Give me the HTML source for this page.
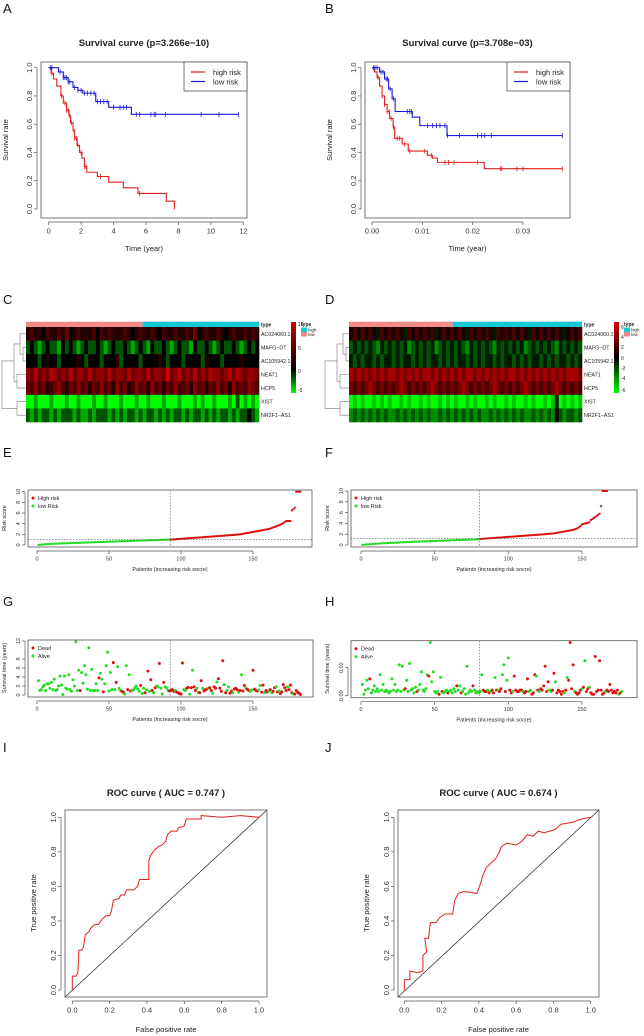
<!DOCTYPE html>
<html><head><meta charset="utf-8"><style>
html,body{margin:0;padding:0;background:#fff}
svg{display:block;font-family:"Liberation Sans",Arial,sans-serif}
</style></head><body>
<svg id="fig" width="644" height="1036" viewBox="0 0 644 1036" xmlns="http://www.w3.org/2000/svg">
<defs>
<linearGradient id="gC" x1="0" y1="1" x2="0" y2="0"><stop offset="0" stop-color="#00ff00"/><stop offset="0.33" stop-color="#000"/><stop offset="1" stop-color="#d00000"/></linearGradient>
<linearGradient id="gD" x1="0" y1="1" x2="0" y2="0"><stop offset="0" stop-color="#00ff00"/><stop offset="0.5" stop-color="#000"/><stop offset="1" stop-color="#e00000"/></linearGradient>
</defs>
<g font-size="13" fill="#111">
<text x="3" y="13">A</text>
<text x="325" y="13">B</text>
<text x="3" y="304">C</text>
<text x="325" y="304">D</text>
<text x="3" y="457">E</text>
<text x="325" y="457">F</text>
<text x="3" y="606">G</text>
<text x="325" y="606">H</text>
<text x="3" y="752">I</text>
<text x="325" y="752">J</text>
</g>
</svg>
<script>
// ---------- DATA ----------
// Panel A (KM)
const aHighT=[0.15,0.3,0.5,0.75,0.9,1.1,1.25,1.35,1.5,1.6,1.75,1.9,2.05,2.2,2.35,3.0,3.7,4.6,5.5,7.25,7.75];
const aHighS=[0.96,0.92,0.87,0.8,0.75,0.7,0.66,0.61,0.56,0.5,0.45,0.4,0.36,0.3,0.26,0.23,0.19,0.15,0.11,0.055,0.0];
const aHighCens=[0.2,0.8,1.0,1.1,1.2,1.3,1.4,1.5,1.6,1.7,1.8,2.0,2.2,2.3,3.2,5.6];
const aLowT=[0.6,0.9,1.2,1.5,1.8,2.1,2.9,3.7,5.1];
const aLowS=[0.97,0.93,0.9,0.86,0.84,0.82,0.76,0.72,0.67];
const aLowCens=[0.1,0.2,0.7,0.9,1.0,1.1,1.2,1.3,1.6,1.8,2.0,2.2,2.4,2.6,2.8,3.0,3.2,3.4,3.6,4.0,4.4,4.6,4.8,5.4,5.6,6.3,6.5,6.6,7.2,9.4,10.5,11.7];
const aEnd=[7.75,11.7];
// Panel B (KM)
const bHighT=[0.0005,0.001,0.0015,0.002,0.0025,0.003,0.0035,0.0042,0.0045,0.006,0.0072,0.011,0.012,0.013,0.0223];
const bHighS=[0.97,0.93,0.87,0.8,0.74,0.69,0.64,0.58,0.5,0.46,0.41,0.38,0.36,0.33,0.285];
const bHighCens=[0.0012,0.002,0.0025,0.003,0.0034,0.0038,0.0043,0.005,0.0055,0.0065,0.0075,0.0105,0.0118,0.0145,0.0152,0.0163,0.021,0.0255,0.0258,0.0288,0.03,0.0378];
const bLowT=[0.0015,0.0025,0.0033,0.004,0.0046,0.008,0.0095,0.0149];
const bLowS=[0.97,0.92,0.85,0.78,0.69,0.65,0.59,0.52];
const bLowCens=[0.0003,0.0006,0.001,0.0018,0.0022,0.0028,0.0031,0.0036,0.0043,0.007,0.0075,0.0078,0.011,0.012,0.0128,0.0135,0.0145,0.015,0.0174,0.021,0.0218,0.0224,0.0237,0.0378];
const bEnd=[0.0378,0.0378];
// Heatmaps (level 0-9 per column block)
const genes=["AC024060.1","MAFG\u2212DT","AC105942.1","NEAT1","HCP5","XIST","NR2F1\u2212AS1"];
const heatC=[
"454435445463454445354544454345445435445445463454454345445454",
"232123221323212322321232232123213223212322132232123223212323",
"333234332333343233323334233332333343233323333243332333343333",
"768676876768677686776867768677686776967867686768776786876776",
"657564567546575646575647564575647564657556475646575647565765",
"001000100010010001001000100010010001000100010100100010201010",
"212122121222121121222121212212122121212212122121212212122321"];
const heatD=[
"565656546565654656565645656565465656546565656546565656545656",
"343434324343434234343423434343243434324343434234343432434343",
"434344343443434434343443434344343434434344343434434343443434",
"878787878788787878788787878787887878787878878787878787878887",
"767678767676787676767876767678767676787676767876767678767676",
"010100101010010100101001010100101001010010100101001014010101",
"232323232322323232323223232323232322323232323223232325323323"];
const heatCSplit=0.5, heatDSplit=0.445;
// Panel E risk scores (sorted)
const eLow=[0.02,0.05,0.08,0.1,0.12,0.14,0.16,0.18,0.2,0.21,0.22,0.24,0.25,0.26,0.27,0.28,0.29,0.3,0.31,0.32,0.33,0.34,0.35,0.36,0.37,0.38,0.39,0.4,0.41,0.42,0.43,0.44,0.45,0.46,0.47,0.48,0.49,0.5,0.51,0.52,0.53,0.54,0.55,0.56,0.57,0.58,0.59,0.6,0.61,0.62,0.63,0.64,0.65,0.66,0.67,0.68,0.69,0.7,0.71,0.72,0.73,0.74,0.75,0.76,0.77,0.78,0.79,0.8,0.81,0.82,0.83,0.84,0.85,0.86,0.87,0.88,0.88,0.89,0.9,0.9,0.91,0.92,0.93,0.94,0.95,0.96,0.97,0.98,0.99,1.0,1.0,1.01];
const eHigh=[1.02,1.04,1.06,1.08,1.1,1.12,1.14,1.16,1.18,1.2,1.22,1.24,1.26,1.28,1.3,1.32,1.34,1.36,1.38,1.4,1.42,1.44,1.46,1.48,1.5,1.52,1.54,1.56,1.58,1.6,1.62,1.64,1.66,1.68,1.7,1.72,1.74,1.76,1.78,1.8,1.82,1.84,1.86,1.88,1.9,1.92,1.95,1.98,2.01,2.05,2.1,2.15,2.2,2.25,2.3,2.35,2.4,2.45,2.5,2.55,2.6,2.65,2.7,2.75,2.8,2.85,2.9,2.95,3.0,3.1,3.2,3.3,3.4,3.5,3.6,3.7,3.8,3.95,4.1,4.3,4.5,4.5,4.5,4.5,6.5,6.7,7.0,10,10,10,10];
const eCut=1.0;
// Panel F risk scores (sorted)
const fLow=[0.02,0.05,0.08,0.1,0.13,0.15,0.17,0.19,0.21,0.23,0.25,0.27,0.29,0.3,0.32,0.33,0.35,0.36,0.38,0.39,0.4,0.42,0.43,0.44,0.46,0.47,0.48,0.5,0.51,0.52,0.54,0.55,0.56,0.57,0.58,0.6,0.61,0.62,0.63,0.64,0.66,0.67,0.68,0.69,0.7,0.71,0.72,0.74,0.75,0.76,0.77,0.78,0.79,0.8,0.81,0.82,0.83,0.84,0.85,0.86,0.87,0.88,0.89,0.9,0.91,0.92,0.93,0.94,0.95,0.96,0.97,0.98,0.99,1.0,1.01,1.02,1.03,1.05,1.07,1.1];
const fHigh=[1.12,1.14,1.16,1.18,1.2,1.22,1.24,1.26,1.28,1.3,1.32,1.34,1.36,1.38,1.4,1.42,1.44,1.46,1.48,1.5,1.52,1.54,1.56,1.58,1.6,1.62,1.64,1.66,1.68,1.7,1.72,1.74,1.76,1.78,1.8,1.82,1.84,1.86,1.88,1.9,1.92,1.94,1.96,1.98,2.0,2.02,2.05,2.08,2.1,2.13,2.16,2.2,2.25,2.3,2.35,2.4,2.45,2.5,2.55,2.6,2.65,2.7,2.75,2.8,2.9,3.0,3.1,3.3,3.5,3.8,3.9,4.0,4.0,4.1,4.2,4.6,4.8,5.0,5.2,5.4,5.6,5.8,7.2,10,10,10,10];
const fCut=1.2;
// Panel G survival time (years) and status (D=dead, A=alive)
const gTime=[3.2,1.0,1.2,1.8,2.2,1.0,2.5,2.5,1.5,2.8,1.2,3.5,1.0,1.2,2.0,4.2,2.2,0.1,4.2,1.5,1.3,4.5,1.2,0.8,3.4,2.0,11.8,1.0,5.5,1.0,5.0,2.6,6.5,4.5,1.3,10.5,1.0,5.7,1.0,1.0,2.5,1.0,3.8,4.8,3.5,0.7,2.5,6.5,9.5,0.9,5.0,1.2,7.2,1.2,2.8,6.3,1.5,1.0,0.8,0.6,0.2,6.5,1.2,4.5,0.9,1.0,1.2,1.6,2.0,1.3,0.8,2.1,0.3,1.5,0.5,1.2,5.3,0.8,3.4,1.0,0.5,1.6,2.0,1.8,7.0,1.5,0.2,2.8,1.8,1.6,1.0,0.9,
1.0,1.2,0.8,1.0,0.6,0.5,0.3,0.2,7.1,1.2,1.0,1.5,1.7,0.2,1.6,5.5,1.8,1.0,1.5,0.6,0.5,3.2,1.5,0.9,1.2,1.3,1.5,1.6,1.0,0.4,1.8,1.5,2.9,3.6,1.5,0.8,7.6,2.3,0.5,1.0,1.8,0.4,0.9,0.5,1.3,1.5,1.2,0.6,1.0,4.5,0.9,2.1,1.5,1.3,1.0,0.8,1.1,5.5,1.3,1.0,0.9,1.1,2.1,0.6,2.2,0.5,1.0,0.7,0.9,1.2,0.5,0.8,1.6,1.8,0.7,0.9,0.3,0.7,2.3,1.6,1.0,1.8,1.2,2.2,0.5,0.3,0.2,1.0,0.6,0.4,0.1];
const gStatus="AAAAAAAAAAAAAAAAAAAAAAAAAAAAADAAAAAAAAAAAADAADAAAAAADADAAADDAADADAAAAAADAADADADDADAADAADAAAD"+
"DDDADDDDDAADDADADDAADDADDDADDADDADDDDADAADDADDDADADDADDAADDDDAADDADDADADDADADDDDDADDDADDDDDD";
// Panel H survival time (x0.001 years) and status
const hTime=[8,1,4,11,5,12,2,4,7,3,5,3,15,4,8,3,4,3,2,3,12,4,8,3,4,22,3,21,4,5,11,3,23,4,5,2,6,3,4,8,17,4,3,5,15,14,38,10,17,3,2,3,1,13,3,2,3,4,2,3,4,2,5,3,7,4,7,2,3,5,1,21,2,4,3,7,4,2,3,2,3,
15,4,3,3,4,2,3,4,2,13,4,4,3,5,15,22,3,11,27,4,2,3,14,4,3,3,4,4,3,2,3,12,3,4,1,2,15,14,4,3,5,4,7,21,3,10,4,3,4,16,10,2,4,3,1,3,2,4,13,11,38,5,22,3,2,1,2,4,5,6,25,3,5,6,2,1,1,28,3,4,25,4,1,2,3,4,3,8,4,2,3,2,4,1,2,3];
const hStatus="AAAAADAAAAAAAAAAAAAAAAAAAAAAADAAAAAAADAAAAAAADAAAAAADADAAADAAAAADAADAAAAAAADAAAAAA"+
"DDDADADDADADDAADAADDADDDDDDADDDAADDDADADDDDDDAADDADDDDDADADDDDADDDDADADDADDDDDDDDDDADDDDDDDDAD";
// ROC curves
const iFpr=[0,0,0.02,0.03,0.035,0.05,0.06,0.07,0.09,0.1,0.12,0.14,0.16,0.18,0.2,0.21,0.22,0.25,0.26,0.28,0.29,0.33,0.35,0.36,0.41,0.41,0.42,0.44,0.46,0.48,0.5,0.51,0.53,0.56,0.57,0.6,0.61,0.69,0.69,0.8,0.9,1];
const iTpr=[0,0.08,0.08,0.1,0.23,0.23,0.25,0.32,0.34,0.36,0.38,0.38,0.41,0.43,0.43,0.46,0.52,0.53,0.55,0.55,0.58,0.58,0.6,0.64,0.64,0.75,0.78,0.81,0.83,0.84,0.86,0.9,0.92,0.92,0.94,0.95,0.99,0.99,1.01,1.0,1.01,1];
const jFpr=[0,0,0.03,0.03,0.07,0.1,0.1,0.12,0.11,0.13,0.14,0.17,0.19,0.22,0.26,0.27,0.29,0.32,0.39,0.41,0.42,0.44,0.47,0.49,0.51,0.52,0.55,0.6,0.63,0.66,0.69,0.72,0.75,0.81,0.84,0.9,0.95,1];
const jTpr=[0,0.06,0.06,0.11,0.1,0.11,0.2,0.22,0.3,0.3,0.39,0.39,0.42,0.44,0.44,0.52,0.56,0.57,0.56,0.62,0.66,0.71,0.74,0.76,0.8,0.83,0.85,0.84,0.86,0.9,0.89,0.92,0.91,0.93,0.96,0.97,0.99,1];

// ---------- DRAWING ----------
const NS="http://www.w3.org/2000/svg";
const fig=document.getElementById('fig');
function el(tag,attrs,parent,txt){const e=document.createElementNS(NS,tag);for(const k in attrs)e.setAttribute(k,attrs[k]);if(txt!==undefined)e.textContent=txt;(parent||fig).appendChild(e);return e;}
function grp(name){const g=el('g',{});


return g;}
function box(g,x0,y0,x1,y1){const r=el('rect',{x:x0,y:y0,width:x1-x0,height:y1-y0,fill:'none',stroke:'#555','stroke-width':0.8},g);

}
function xTicks(g,vals,labels,X,yb,fs){vals.forEach((v,i)=>{el('line',{x1:X(v),x2:X(v),y1:yb,y2:yb+3,stroke:'#555','stroke-width':0.7},g);
const t=el('text',{x:X(v),y:yb+3+fs+1,'font-size':fs,'text-anchor':'middle',fill:'#333'},g,labels[i]);

});
el('line',{x1:X(vals[0]),x2:X(vals[vals.length-1]),y1:yb,y2:yb,stroke:'#555','stroke-width':0.7},g);}
function yTicks(g,vals,labels,Y,xb,fs){vals.forEach((v,i)=>{el('line',{x1:xb-3,x2:xb,y1:Y(v),y2:Y(v),stroke:'#555','stroke-width':0.7},g);
const tx=xb-5;const t=el('text',{x:tx,y:Y(v),'font-size':fs,'text-anchor':'middle',fill:'#333',transform:`rotate(-90 ${tx} ${Y(v)})`},g,labels[i]);

});
el('line',{x1:xb,x2:xb,y1:Y(vals[0]),y2:Y(vals[vals.length-1]),stroke:'#555','stroke-width':0.7},g);}
function txt(g,x,y,s,fs,opts,name){const t=el('text',Object.assign({x:x,y:y,'font-size':fs,fill:'#222'},opts||{}),g,s);

return t;}

// KM panel
function km(name,x0,x1,X,title,hT,hS,hC,lT,lS,lC,ends,xv,xl){
 const g=grp(name);const y0=62,y1=218;const Y=s=>209-s*141.3;
 txt(g,(x0+x1)/2,46,title,9.5,{'text-anchor':'middle','font-weight':'bold'},'chart-title');
 box(g,x0,y0,x1,y1);
 xTicks(g,xv,xl,X,y1+4,7.5);
 yTicks(g,[0,0.2,0.4,0.6,0.8,1],["0.0","0.2","0.4","0.6","0.8","1.0"],Y,x0-4,7.5);
 txt(g,(x0+x1)/2,251,"Time (year)",7.5,{'text-anchor':'middle'},'x-axis-title');
 const yl=x0-33;txt(g,yl,140,"Survival rate",7.5,{'text-anchor':'middle',transform:`rotate(-90 ${yl} 140)`},'y-axis-title');
 function step(T,S,end){let d=`M${X(0)},${Y(1)}`;T.forEach((t,i)=>{d+=` H${X(t)} V${Y(S[i])}`;});d+=` H${X(end)}`;return d;}
 function sAt(T,S,t){let s=1;T.forEach((tt,i)=>{if(tt<=t)s=S[i];});return s;}
 [[hT,hS,hC,'#e0201e',ends[0],'high-risk-curve'],[lT,lS,lC,'#1a1ad8',ends[1],'low-risk-curve']].forEach(([T,S,C,col,end,nm])=>{
  const p=el('path',{d:step(T,S,end),fill:'none',stroke:col,'stroke-width':1.1},g);
  
  
  C.forEach(c=>{const yy=Y(sAt(T,S,c));const m=el('line',{x1:X(c),x2:X(c),y1:yy-2.5,y2:yy+2.5,stroke:col,'stroke-width':0.8},g);
  
  });
 });
 const lg=el('g',{},g);
 
 
 el('rect',{x:x1-63,y:y0,width:63,height:29,fill:'#fff',stroke:'#555','stroke-width':0.8},lg);
 el('line',{x1:x1-56,x2:x1-42,y1:y0+10,y2:y0+10,stroke:'#e0201e','stroke-width':1.2},lg);
 el('line',{x1:x1-56,x2:x1-42,y1:y0+19.5,y2:y0+19.5,stroke:'#1a1ad8','stroke-width':1.2},lg);
 txt(lg,x1-34,y0+13,"high risk",7.5,{},'legend-high-risk');
 txt(lg,x1-34,y0+22.5,"low risk",7.5,{},'legend-low-risk');
}
km('survival-plot-a',41,247,t=>48.7+t*16.22,"Survival curve (p=3.266e\u221210)",aHighT,aHighS,aHighCens,aLowT,aLowS,aLowCens,aEnd,[0,2,4,6,8,10,12],["0","2","4","6","8","10","12"]);
km('survival-plot-b',365,570,t=>372+t*5033,"Survival curve (p=3.708e\u221203)",bHighT,bHighS,bHighCens,bLowT,bLowS,bLowCens,bEnd,[0,0.01,0.02,0.03],["0.00","0.01","0.02","0.03"]);

// Heatmaps
function lvlColor(L,mid){if(L<mid){const g=Math.round((mid-L)/mid*255);return `rgb(0,${g},0)`;}const r=Math.round((L-mid)/(9-mid)*215);return `rgb(${r},0,0)`;}
function heat(name,x0,x1,rows,split,mid,grad,cbX,cbLabels){
 const g=grp(name);const yb=321.7,yt=327,yE=422;const rh=(yE-yt)/rows.length;
 const sx=x0+(x1-x0)*split;
 const b1=el('rect',{x:x0,y:yb,width:sx-x0,height:yt-yb,fill:'#f28b86'},g);
 
 
 const b2=el('rect',{x:sx,y:yb,width:x1-sx,height:yt-yb,fill:'#15c9d6'},g);
 
 
 txt(g,x1+2,yt-0.5,"type",5,{'font-weight':'bold'},'annotation-label');
 rows.forEach((r,ri)=>{const cw=(x1-x0)/r.length;
  for(let c=0;c<r.length;c++){const L=+r[c];const rc=el('rect',{x:x0+c*cw,y:yt+ri*rh,width:cw+0.3,height:rh+0.3,fill:lvlColor(L,mid)},g);
  
  }
  txt(g,x1+2,yt+ri*rh+rh/2+2,genes[ri],5.3,{},'gene-label');});
 const yc=i=>yt+i*rh+rh/2;const dg=el('g',{stroke:'#777','stroke-width':0.6,fill:'none'},g);
 
 
 const xs=[x0-3,x0-6,x0-9,x0-12,x0-20,x0-24];
 el('path',{d:`M${x0},${yc(1)}H${xs[0]}V${yc(2)}H${x0}M${xs[0]},${(yc(1)+yc(2))/2}H${xs[1]}M${x0},${yc(0)}H${xs[1]}V${(yc(1)+yc(2))/2}M${x0},${yc(3)}H${xs[2]}V${yc(4)}H${x0}M${xs[1]},${(yc(0)+yc(1.5))/2}H${xs[3]}V${(yc(3)+yc(4))/2}H${xs[2]}M${x0},${yc(5)}H${xs[2]}V${yc(6)}H${x0}M${xs[3]},${yc(2)}H${xs[5]}V${(yc(5)+yc(6))/2}H${xs[2]}`},dg);
 const cb=el('rect',{x:cbX,y:322,width:5,height:71,fill:`url(#${grad})`},g);
 
 
 cbLabels.forEach(([v,y])=>txt(g,cbX+7,y,v,5,{},'color-scale-label'));
 txt(g,cbX+10,326,"type",5,{'font-weight':'bold'},'legend-title');
 const c1=el('rect',{x:cbX+10,y:327.5,width:6,height:4.5,fill:'#15c9d6'},g);
 
 
 const c2=el('rect',{x:cbX+10,y:332,width:6,height:4.5,fill:'#f28b86'},g);
 
 
 txt(g,cbX+17,331.5,"high",4.5,{},'legend-high');txt(g,cbX+17,336,"low",4.5,{},'legend-low');
}
heat('heatmap-c',26,259,heatC,heatCSplit,3,'gC',291,[["10",326],["5",350],["0",373],["-5",392]]);
heat('heatmap-d',349,582,heatD,heatDSplit,4.5,'gD',614,[["6",329],["4",339],["2",349],["0",360],["-2",370],["-4",380],["-6",392]]);

// Risk score plots
function risk(name,x0,x1,X,Y,low,high,cut,yb,xlc){
 const g=grp(name);box(g,x0,yb-55,x1,yb+2);
 xTicks(g,[0,50,100,150],["0","50","100","150"],X,yb+6,5.5);
 yTicks(g,[0,2,4,6,8,10],["0","2","4","6","8","10"],Y,x0-3,5.5);
 txt(g,xlc,yb+26,"Patients (increasing risk socre)",5.5,{'text-anchor':'middle'},'x-axis-title');
 const yl=x0-22;txt(g,yl,yb-27,"Risk score",5.5,{'text-anchor':'middle',transform:`rotate(-90 ${yl} ${yb-27})`},'y-axis-title');
 low.forEach((v,i)=>{const c=el('circle',{cx:X(i+1),cy:Y(v),r:1.1,fill:'#22dd22'},g);
 
 });
 high.forEach((v,i)=>{const c=el('circle',{cx:X(low.length+i+1),cy:Y(v),r:1.1,fill:'#dd1111'},g);
 
 });
 const vx=X(low.length+0.5);
 el('line',{x1:vx,x2:vx,y1:yb-55,y2:yb+2,stroke:'#555','stroke-width':0.6,'stroke-dasharray':'1.5,1.5'},g);
 el('line',{x1:x0,x2:x1,y1:Y(cut),y2:Y(cut),stroke:'#555','stroke-width':0.6,'stroke-dasharray':'1.5,1.5'},g);
 el('circle',{cx:x0+5,cy:yb-47,r:1.5,fill:'#dd1111'},g);el('circle',{cx:x0+5,cy:yb-39,r:1.5,fill:'#22dd22'},g);
 txt(g,x0+10,yb-45,"High risk",5.5,{},'legend-high-risk');txt(g,x0+10,yb-37,"low Risk",5.5,{},'legend-low-risk');
}
risk('risk-score-plot-e',28,312,p=>37+p*1.44,v=>545-v*5.33,eLow,eHigh,eCut,545,170);
risk('risk-score-plot-f',351,637,p=>361+p*1.473,v=>545-v*5.4,fLow,fHigh,fCut,545,494);

// Survival status plots
function status(name,x0,x1,X,Y,times,st,cutIdx,yv,yl,yb,xlc){
 const g=grp(name);box(g,x0,yb-55,x1,yb+2);
 xTicks(g,[0,50,100,150],["0","50","100","150"],X,yb+6,5.5);
 yTicks(g,yv,yl,Y,x0-3,5.5);
 txt(g,xlc,yb+26,"Patients (increasing risk socre)",5.5,{'text-anchor':'middle'},'x-axis-title');
 const ylx=x0-22;txt(g,ylx,yb-27,"Survival time (years)",5.5,{'text-anchor':'middle',transform:`rotate(-90 ${ylx} ${yb-27})`},'y-axis-title');
 times.forEach((v,i)=>{const dead=st[i]==='D';const c=el('circle',{cx:X(i+1),cy:Y(v),r:1.5,fill:dead?'#dd1111':'#22dd22'},g);
 
 });
 const vx=X(cutIdx+0.5);
 el('line',{x1:vx,x2:vx,y1:yb-55,y2:yb+2,stroke:'#555','stroke-width':0.6,'stroke-dasharray':'1.5,1.5'},g);
 el('circle',{cx:x0+5,cy:yb-47,r:1.5,fill:'#dd1111'},g);el('circle',{cx:x0+5,cy:yb-39,r:1.5,fill:'#22dd22'},g);
 txt(g,x0+10,yb-45,"Dead",5.5,{},'legend-dead');txt(g,x0+10,yb-37,"Alive",5.5,{},'legend-alive');
}
status('survival-status-plot-g',28,313,p=>37+p*1.44,v=>695-v*4.5,gTime,gStatus,eLow.length,[0,2,4,6,8,12],["0","2","4","6","8","12"],695,170);
status('survival-status-plot-h',351,637,p=>361+p*1.473,v=>695.7-v*1.4,hTime,hStatus,fLow.length,[0,20],["0.00","0.02"],695.7,494);

// ROC
function roc(name,x0,x1,X,fpr,tpr,auc){
 const g=grp(name);const Y=t=>990-t*172.7;
 txt(g,(x0+x1)/2,796,`ROC curve ( AUC =  ${auc} )`,9.5,{'text-anchor':'middle','font-weight':'bold'},'chart-title');
 box(g,x0,810,x1,997);
 xTicks(g,[0,0.2,0.4,0.6,0.8,1],["0.0","0.2","0.4","0.6","0.8","1.0"],X,1001,7.5);
 yTicks(g,[0,0.2,0.4,0.6,0.8,1],["0.0","0.2","0.4","0.6","0.8","1.0"],Y,x0-4,7.5);
 txt(g,(x0+x1)/2,1032,"False positive rate",7.5,{'text-anchor':'middle'},'x-axis-title');
 const yl=x0-29;txt(g,yl,903,"True positive rate",7.5,{'text-anchor':'middle',transform:`rotate(-90 ${yl} 903)`},'y-axis-title');
 el('line',{x1:x0,y1:997,x2:x1,y2:810,stroke:'#222','stroke-width':0.7},g);
 const p=el('path',{d:fpr.map((f,i)=>(i?'L':'M')+X(f)+','+Y(tpr[i])).join(' '),fill:'none',stroke:'#e0201e','stroke-width':1},g);
 
 
}
roc('roc-plot-i',65,267,f=>72.3+f*186.7,iFpr,iTpr,"0.747");
roc('roc-plot-j',398,599,f=>404.3+f*186.4,jFpr,jTpr,"0.674");
</script>
</body></html>
